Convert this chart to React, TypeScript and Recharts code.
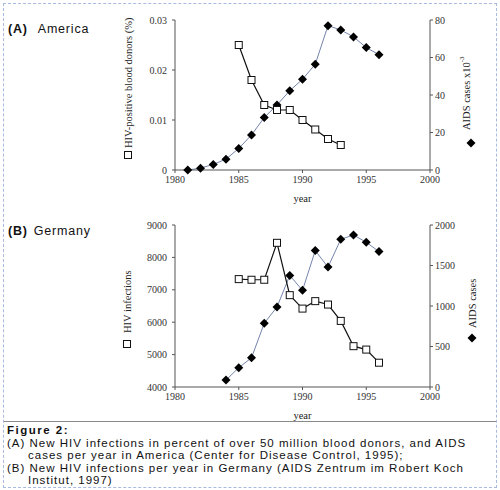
import React from "react"
import { ComposedChart, Line, XAxis, YAxis } from "recharts"

// America (Center for Disease Control, 1995)
const usAidsYears = [1981, 1982, 1983, 1984, 1985, 1986, 1987, 1988, 1989, 1990, 1991, 1992, 1993, 1994, 1995, 1996]
const usAidsCases = [0, 1, 3, 5.8, 11.5, 18.7, 28, 34.7, 42.3, 48.4, 56.4, 77, 74.7, 71, 65.3, 61.5]
const usDonorYears = [1985, 1986, 1987, 1988, 1989, 1990, 1991, 1992, 1993]
const usDonorPct = [0.025, 0.018, 0.013, 0.012, 0.012, 0.010, 0.0081, 0.0062, 0.005]

// Germany (AIDS Zentrum im Robert Koch Institut, 1997)
const deAidsYears = [1984, 1985, 1986, 1987, 1988, 1989, 1990, 1991, 1992, 1993, 1994, 1995, 1996]
const deAidsCases = [86, 238, 361, 787, 988, 1377, 1193, 1684, 1480, 1823, 1877, 1787, 1672]
const deHivYears = [1985, 1986, 1987, 1988, 1989, 1990, 1991, 1992, 1993, 1994, 1995, 1996]
const deHivInfections = [7330, 7310, 7310, 8450, 6835, 6420, 6650, 6545, 6040, 5260, 5155, 4750]

const yearTicks = [1980, 1985, 1990, 1995, 2000]
const usLeftTicks = [0, 0.01, 0.02, 0.03]
const usRightTicks = [0, 20, 40, 60, 80]
const deLeftTicks = [4000, 5000, 6000, 7000, 8000, 9000]
const deRightTicks = [0, 500, 1000, 1500, 2000]

function merge(aYears: number[], aVals: number[], bYears: number[], bVals: number[]) {
  const years = Array.from(new Set([...aYears, ...bYears])).sort((a, b) => a - b)
  return years.map((year) => {
    const i = aYears.indexOf(year)
    const j = bYears.indexOf(year)
    return { year, hiv: j >= 0 ? bVals[j] : null, aids: i >= 0 ? aVals[i] : null }
  })
}

const usData = merge(usAidsYears, usAidsCases, usDonorYears, usDonorPct)
const deData = merge(deAidsYears, deAidsCases, deHivYears, deHivInfections)

const serif = "'Liberation Serif', 'Times New Roman', serif"
const sans = "'Liberation Sans', Arial, sans-serif"
const tick = { fill: "#333", fontSize: 10, fontFamily: serif }
const axisLine = { stroke: "#555" }

function Square(props: any) {
  const { cx, cy } = props
  if (cx == null || cy == null) return null
  return <rect x={cx - 3.5} y={cy - 3.5} width={7} height={7} fill="#fff" stroke="#111" strokeWidth={1} />
}

function Diamond(props: any) {
  const { cx, cy } = props
  if (cx == null || cy == null) return null
  const r = 4.5
  return <polygon points={`${cx},${cy - r} ${cx + r},${cy} ${cx},${cy + r} ${cx - r},${cy}`} fill="#000" />
}

// rotated axis title with its series marker underneath
function sideLabel(x: number, start: number, markerX: number, markerY: number, marker: "square" | "diamond", text: React.ReactNode) {
  return () => (
    <g>
      <text
        x={x}
        y={start}
        transform={`rotate(-90 ${x} ${start})`}
        textAnchor="start"
        dominantBaseline="central"
        fontFamily={serif}
        fontSize={10.5}
        fill="#222"
      >
        {text}
      </text>
      {marker === "square" ? <Square cx={markerX} cy={markerY} /> : <Diamond cx={markerX} cy={markerY} />}
    </g>
  )
}

function yearLabel(props: any) {
  const { viewBox } = props
  return (
    <text x={viewBox.x + viewBox.width / 2} y={viewBox.y + 28} textAnchor="middle" dominantBaseline="central" fontFamily={serif} fontSize={10.5} fill="#222">
      year
    </text>
  )
}

function Panel({ data, leftTicks, rightTicks, leftDomain, rightDomain, leftLabel, rightLabel, height, top }: any) {
  return (
    <ComposedChart width={500} height={height} data={data} margin={{ top, right: 0, bottom: 0, left: 0 }}>
      <XAxis
        dataKey="year"
        type="number"
        domain={[1980, 2000]}
        ticks={yearTicks}
        tick={tick}
        tickSize={3}
        tickMargin={3}
        axisLine={axisLine}
        tickLine={axisLine}
        height={40}
        label={yearLabel}
      />
      <YAxis
        yAxisId="l"
        domain={leftDomain}
        ticks={leftTicks}
        tick={tick}
        tickSize={3}
        tickMargin={5}
        width={175}
        axisLine={axisLine}
        tickLine={axisLine}
        allowDataOverflow
        label={leftLabel}
      />
      <YAxis
        yAxisId="r"
        orientation="right"
        domain={rightDomain}
        ticks={rightTicks}
        tick={tick}
        tickSize={3}
        width={70}
        axisLine={axisLine}
        tickLine={axisLine}
        label={rightLabel}
      />
      <Line yAxisId="r" dataKey="aids" stroke="#7584ad" strokeWidth={1} dot={<Diamond />} activeDot={false} isAnimationActive={false} />
      <Line yAxisId="l" dataKey="hiv" stroke="#111" strokeWidth={1.2} dot={<Square />} activeDot={false} isAnimationActive={false} />
    </ComposedChart>
  )
}

const titleStyle: React.CSSProperties = {
  position: "absolute",
  left: 8,
  fontFamily: sans,
  fontSize: 12.5,
  letterSpacing: 0.8,
  color: "#111",
}

export default function App() {
  return (
    <div style={{ position: "fixed", left: 0, top: 0, width: 500, height: 490, background: "#fff", overflow: "hidden" }}>
      <div style={{ position: "absolute", left: 3, top: 3, width: 492, height: 483, border: "1px dashed #a9badf" }} />
      <div style={{ position: "absolute", top: 0, left: 0 }}>
        <Panel
          data={usData}
          leftTicks={usLeftTicks}
          rightTicks={usRightTicks}
          leftDomain={[0, 0.03]}
          rightDomain={[0, 80]}
          height={210}
          top={20}
          leftLabel={sideLabel(128, 148, 128, 155, "square", "HIV-positive blood donors (%)")}
          rightLabel={sideLabel(466, 130, 471, 143, "diamond", (
            <>
              AIDS cases x10
              <tspan fontSize={7} dy={-4}>-3</tspan>
            </>
          ))}
        />
      </div>
      <div style={{ position: "absolute", top: 210, left: 0 }}>
        <Panel
          data={deData}
          leftTicks={deLeftTicks}
          rightTicks={deRightTicks}
          leftDomain={[4000, 9000]}
          rightDomain={[0, 2000]}
          height={217}
          top={15}
          leftLabel={sideLabel(127, 123, 127, 134, "square", "HIV infections")}
          rightLabel={sideLabel(472, 118, 472, 128, "diamond", "AIDS cases")}
        />
      </div>
      <div style={{ ...titleStyle, top: 22 }}>
        <b>(A)</b>
        <span style={{ marginLeft: 10 }}>America</span>
      </div>
      <div style={{ ...titleStyle, top: 224 }}>
        <b>(B)</b>
        <span style={{ marginLeft: 6 }}>Germany</span>
      </div>
      <div
        style={{
          position: "absolute",
          left: 4,
          top: 421,
          width: 492,
          borderTop: "1px solid #8a8a8a",
          fontFamily: sans,
          fontSize: 11.5,
          letterSpacing: 1,
          lineHeight: "12.6px",
          color: "#111",
          paddingTop: 2,
        }}
      >
        <div style={{ paddingLeft: 3, fontWeight: "bold", letterSpacing: 1.5 }}>Figure 2:</div>
        <div style={{ paddingLeft: 3 }}>(A) New HIV infections in percent of over 50 million blood donors, and AIDS</div>
        <div style={{ paddingLeft: 24 }}>cases per year in America (Center for Disease Control, 1995);</div>
        <div style={{ paddingLeft: 3 }}>(B) New HIV infections per year in Germany (AIDS Zentrum im Robert Koch</div>
        <div style={{ paddingLeft: 24 }}>Institut, 1997)</div>
      </div>
    </div>
  )
}
